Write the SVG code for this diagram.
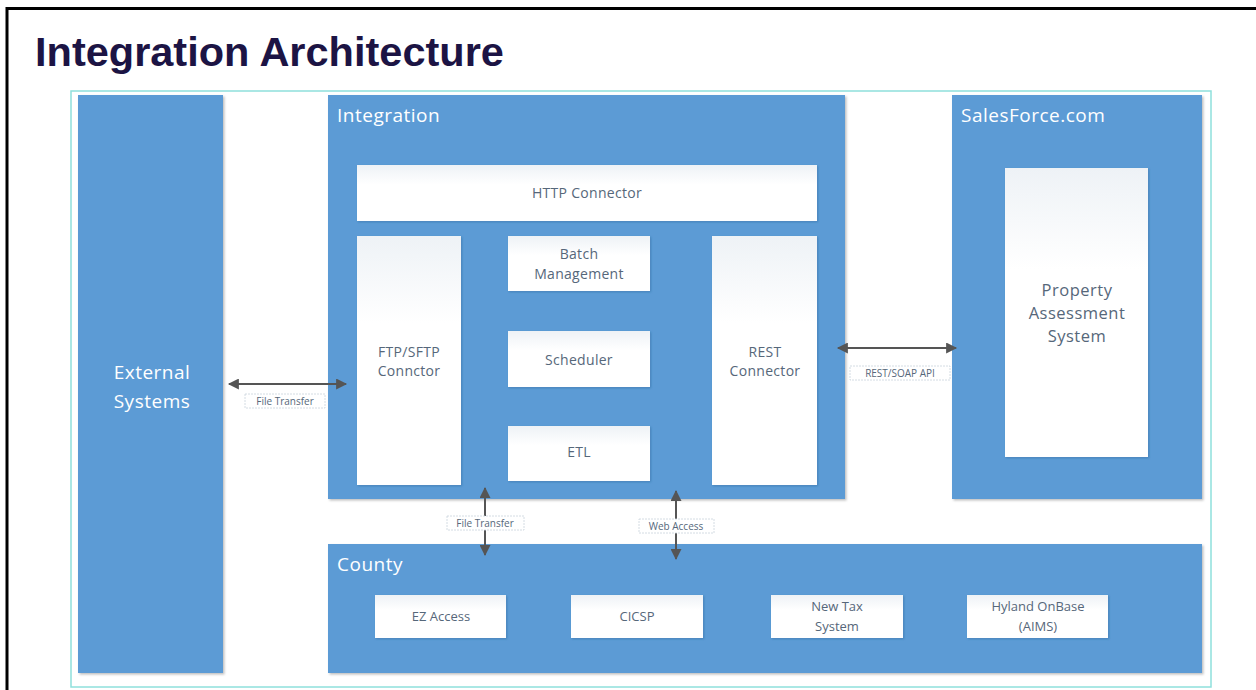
<svg xmlns="http://www.w3.org/2000/svg" width="1256" height="690" viewBox="0 0 1256 690">
<defs>
<style>
.blue{fill:#5b9bd5;filter:url(#sh)}
.white{fill:url(#wg);filter:url(#sh2)}
.hdr{font-family:"Open Sans","DejaVu Sans",sans-serif;font-size:19px;fill:#ffffff;letter-spacing:0.5px}
.t{font-family:"Open Sans","DejaVu Sans",sans-serif;font-size:14px;fill:#56677a;text-anchor:middle;letter-spacing:0.3px}
.tb{font-family:"Open Sans","DejaVu Sans",sans-serif;font-size:16.5px;fill:#56677a;text-anchor:middle;letter-spacing:0.5px}
.tc{font-family:"Open Sans","DejaVu Sans",sans-serif;font-size:13px;fill:#56677a;text-anchor:middle}
.lbl{font-family:"Open Sans","DejaVu Sans",sans-serif;font-size:10px;fill:#56677a;text-anchor:middle}
.lb{fill:#ffffff;stroke:#c9d3dc;stroke-width:0.8;stroke-dasharray:2 1}
.conn{stroke:#555555;stroke-width:2;fill:none;marker-start:url(#ah);marker-end:url(#ah)}
</style>
<linearGradient id="wg" x1="0" y1="0" x2="0" y2="1">
<stop offset="0" stop-color="#eef2f6"/>
<stop offset="0.35" stop-color="#ffffff"/>
<stop offset="1" stop-color="#ffffff"/>
</linearGradient>
<filter id="sh" x="-5%" y="-5%" width="110%" height="110%">
<feDropShadow dx="1.5" dy="1.5" stdDeviation="1.2" flood-color="#000" flood-opacity="0.25"/>
</filter>
<filter id="sh2" x="-5%" y="-5%" width="110%" height="110%">
<feDropShadow dx="1" dy="1" stdDeviation="0.8" flood-color="#1f4f80" flood-opacity="0.35"/>
</filter>
<marker id="ah" viewBox="0 0 10 10" refX="9" refY="5" markerWidth="7" markerHeight="5.5" orient="auto-start-reverse" markerUnits="strokeWidth">
<path d="M0,0 L10,5 L0,10 z" fill="#555555"/>
</marker>
</defs>
<rect x="0" y="0" width="1256" height="690" fill="#ffffff"/>
<rect x="7" y="8.5" width="1262" height="700" fill="none" stroke="#000000" stroke-width="3"/>
<text x="35" y="66" font-family="Liberation Sans, Arial, sans-serif" font-weight="bold" font-size="41.5" fill="#1c1444">Integration Architecture</text>
<rect x="71" y="91" width="1140" height="596" fill="none" stroke="#8ee0dc" stroke-width="1.5"/>

<g id="external-systems">
<rect class="blue" x="78" y="95" width="145" height="578"/>
<text class="hdr" x="152" y="379" text-anchor="middle">External</text>
<text class="hdr" x="152" y="408" text-anchor="middle">Systems</text>
</g>

<g id="integration">
<rect class="blue" x="328" y="95" width="517" height="404"/>
<text class="hdr" x="337" y="122">Integration</text>
</g>
<g id="http-connector">
<rect class="white" x="357" y="165" width="460" height="56"/>
<text class="t" x="587" y="198">HTTP Connector</text>
</g>
<g id="ftp-connector">
<rect class="white" x="357" y="236" width="104" height="249"/>
<text class="t" x="409" y="357">FTP/SFTP</text>
<text class="t" x="409" y="376">Connctor</text>
</g>
<g id="batch-management">
<rect class="white" x="508" y="236" width="142" height="55"/>
<text class="t" x="579" y="259">Batch</text>
<text class="t" x="579" y="279">Management</text>
</g>
<g id="scheduler">
<rect class="white" x="508" y="331" width="142" height="56"/>
<text class="t" x="579" y="365">Scheduler</text>
</g>
<g id="etl">
<rect class="white" x="508" y="426" width="142" height="55"/>
<text class="t" x="579" y="457">ETL</text>
</g>
<g id="rest-connector">
<rect class="white" x="712" y="236" width="105" height="249"/>
<text class="t" x="765" y="357">REST</text>
<text class="t" x="765" y="376">Connector</text>
</g>

<g id="salesforce">
<rect class="blue" x="952" y="95" width="250" height="404"/>
<text class="hdr" x="961" y="122">SalesForce.com</text>
</g>
<g id="property-assessment">
<rect class="white" x="1005" y="168" width="143" height="289"/>
<text class="tb" x="1077" y="296">Property</text>
<text class="tb" x="1077" y="319">Assessment</text>
<text class="tb" x="1077" y="342">System</text>
</g>

<g id="county">
<rect class="blue" x="328" y="544" width="874" height="129"/>
<text class="hdr" x="337" y="571">County</text>
</g>
<g id="ez-access">
<rect class="white" x="375" y="595" width="131" height="43"/>
<text class="tc" x="441" y="621">EZ Access</text>
</g>
<g id="cicsp">
<rect class="white" x="571" y="595" width="132" height="43"/>
<text class="tc" x="637" y="621">CICSP</text>
</g>
<g id="new-tax-system">
<rect class="white" x="771" y="595" width="132" height="43"/>
<text class="tc" x="837" y="611">New Tax</text>
<text class="tc" x="837" y="631">System</text>
</g>
<g id="hyland-onbase">
<rect class="white" x="967" y="595" width="141" height="43"/>
<text class="tc" x="1038" y="611">Hyland OnBase</text>
<text class="tc" x="1038" y="631">(AIMS)</text>
</g>

<g id="connectors">
<line class="conn" x1="229" y1="384" x2="346" y2="384"/>
<rect class="lb" x="245" y="394" width="80" height="14"/>
<text class="lbl" x="285" y="405">File Transfer</text>

<line class="conn" x1="838" y1="348" x2="956" y2="348"/>
<rect class="lb" x="850" y="366" width="100" height="14"/>
<text class="lbl" x="900" y="377">REST/SOAP API</text>

<line class="conn" x1="485" y1="488" x2="485" y2="555"/>
<rect class="lb" x="447" y="516" width="77" height="14"/>
<text class="lbl" x="485" y="527">File Transfer</text>

<line class="conn" x1="676" y1="491" x2="676" y2="559"/>
<rect class="lb" x="639" y="519" width="75" height="14"/>
<text class="lbl" x="676" y="530">Web Access</text>
</g>
</svg>
